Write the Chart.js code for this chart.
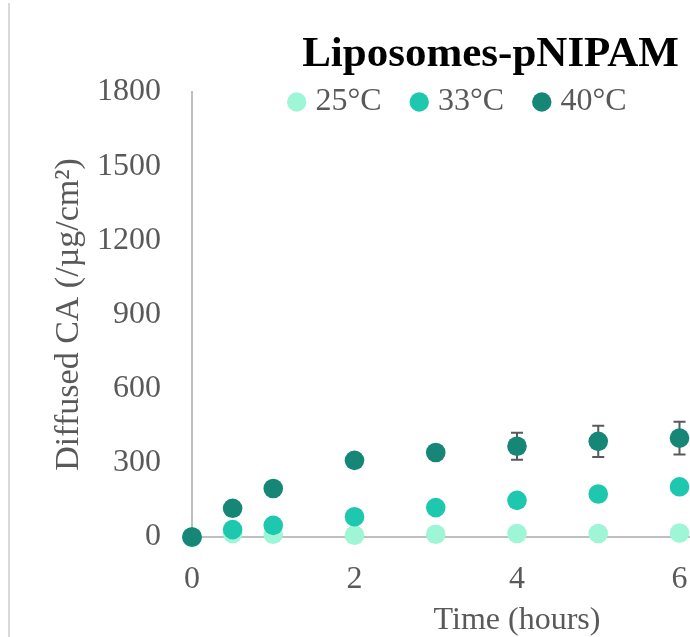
<!DOCTYPE html>
<html>
<head>
<meta charset="utf-8">
<script src="https://cdn.jsdelivr.net/npm/chart.js@4/dist/chart.umd.min.js"></script>
<style>
  html, body { margin: 0; padding: 0; background: #fff; overflow: hidden; }
  #wrap { position: relative; width: 690px; height: 637px; overflow: hidden; background: #fff; }
  #frame { position: absolute; left: 8px; top: 3px; width: 0; height: 700px; border-left: 2px solid #d9d9d9; }
  #c { position: absolute; left: 0; top: 0; }
</style>
</head>
<body>
<div id="wrap">
  <div id="frame"></div>
  <canvas id="c" width="980" height="637"></canvas>
</div>
<script>
// Sampling times (hours)
const hours = [0, 0.5, 1, 2, 3, 4, 5, 6];

// Diffused CA (µg/cm²) per temperature
const ca25 = [0, 14, 11, 7, 11, 14, 14, 16];
const ca33 = [0, 30, 47, 82, 119, 148, 174, 203];
const ca40 = [0, 116, 196, 310, 342, 367, 387, 400];

// Standard deviations (only visible ones beyond the marker size)
const err25 = [0, 0, 0, 0, 0, 0, 0, 0];
const err33 = [0, 0, 0, 0, 0, 0, 0, 0];
const err40 = [0, 0, 0, 0, 0, 55, 63, 66];

const seriesLabels = ['25°C', '33°C', '40°C'];
const seriesColors = ['#9ff6d6', '#1ec8af', '#168676'];

const xTicks = [0, 2, 4, 6, 8];
const yTicks = [0, 300, 600, 900, 1200, 1500, 1800];

const SERIF = "'Liberation Serif', 'Times New Roman', serif";
const GREY = '#595959';

const toPoints = (vals) => hours.map((h, i) => ({ x: h, y: vals[i] }));

// Error bars drawn behind the markers
const errorBars = {
  id: 'errorBars',
  beforeDatasetsDraw(chart, args, opts) {
    const { ctx, scales: { x, y } } = chart;
    ctx.save();
    ctx.strokeStyle = opts.color;
    ctx.lineWidth = opts.width;
    chart.data.datasets.forEach((ds) => {
      if (!ds.errors) return;
      ds.data.forEach((p, i) => {
        const e = ds.errors[i];
        if (!e) return;
        const px = x.getPixelForValue(p.x);
        const top = y.getPixelForValue(p.y + e);
        const bot = y.getPixelForValue(p.y - e);
        ctx.beginPath();
        ctx.moveTo(px, top); ctx.lineTo(px, bot);
        ctx.moveTo(px - opts.cap, top); ctx.lineTo(px + opts.cap, top);
        ctx.moveTo(px - opts.cap, bot); ctx.lineTo(px + opts.cap, bot);
        ctx.stroke();
      });
    });
    ctx.restore();
  }
};

// Compact one-line legend under the title
const headerLegend = {
  id: 'headerLegend',
  afterDraw(chart, args, opts) {
    const ctx = chart.ctx;
    ctx.save();
    ctx.font = `${opts.size}px ${SERIF}`;
    ctx.textBaseline = 'middle';
    ctx.textAlign = 'left';
    let x = opts.x;
    chart.data.datasets.forEach((ds) => {
      ctx.fillStyle = ds.backgroundColor;
      ctx.beginPath();
      ctx.arc(x + opts.r, opts.y, opts.r, 0, Math.PI * 2);
      ctx.fill();
      x += 2 * opts.r + opts.gap;
      ctx.fillStyle = opts.color;
      ctx.fillText(ds.label, x, opts.y);
      x += ctx.measureText(ds.label).width + opts.spacing;
    });
    ctx.restore();
  }
};

// Moves the title block horizontally
const titleShift = {
  id: 'titleShift',
  afterLayout(chart, args, opts) {
    const t = chart.titleBlock;
    if (t) { t.left += opts.dx; t.right += opts.dx; }
  }
};

const makeSet = (i, vals, errs, order) => ({
  label: seriesLabels[i],
  data: toPoints(vals),
  errors: errs,
  order: order,
  backgroundColor: seriesColors[i],
  borderColor: seriesColors[i],
  pointBackgroundColor: seriesColors[i],
  pointBorderWidth: 0,
  pointRadius: 9.8,
  pointHoverRadius: 9.8,
  showLine: false,
  clip: false
});

const plainNumber = (v) => String(v);

new Chart(document.getElementById('c'), {
  type: 'scatter',
  data: {
    datasets: [
      makeSet(0, ca25, err25, 2),
      makeSet(1, ca33, err33, 1),
      makeSet(2, ca40, err40, 0)
    ]
  },
  plugins: [errorBars, headerLegend, titleShift],
  options: {
    responsive: false,
    animation: false,
    events: [],
    layout: { padding: { left: 49, right: 138, top: 0, bottom: 0 } },
    plugins: {
      legend: { display: false },
      tooltip: { enabled: false },
      title: {
        display: true,
        text: 'Liposomes-pNIPAM',
        color: '#000',
        font: { family: SERIF, size: 43, weight: 'bold', lineHeight: 1.2 },
        padding: { top: 29.5, bottom: 10.9 }
      },
      titleShift: { dx: 45 },
      headerLegend: { x: 287, y: 102, r: 9.7, gap: 9, spacing: 28, size: 32, color: GREY },
      errorBars: { color: '#5a5a5a', width: 2, cap: 6 }
    },
    scales: {
      x: {
        type: 'linear',
        min: xTicks[0],
        max: xTicks[xTicks.length - 1],
        afterBuildTicks: (s) => { s.ticks = xTicks.map(v => ({ value: v })); },
        afterFit: (s) => { s.height = 100; },
        ticks: { color: GREY, padding: 23, callback: plainNumber, font: { family: SERIF, size: 32 } },
        grid: { display: false, drawTicks: false },
        border: { display: true, color: '#bfbfbf', width: 2 },
        title: {
          display: true, text: 'Time (hours)', color: GREY,
          font: { family: SERIF, size: 32, lineHeight: 1.0 }, padding: { top: 0, bottom: 0 }
        }
      },
      y: {
        min: yTicks[0],
        max: yTicks[yTicks.length - 1],
        afterBuildTicks: (s) => { s.ticks = yTicks.map(v => ({ value: v })); },
        afterFit: (s) => { s.width = 143; },
        ticks: { color: GREY, padding: 31, callback: plainNumber, font: { family: SERIF, size: 32 } },
        grid: { display: false, drawTicks: false },
        border: { display: true, color: '#bfbfbf', width: 2 },
        title: {
          display: true, text: 'Diffused CA (/µg/cm²)', color: GREY,
          font: { family: SERIF, size: 34 }, padding: { top: 0, bottom: 0 }
        }
      }
    }
  }
});
</script>
</body>
</html>
